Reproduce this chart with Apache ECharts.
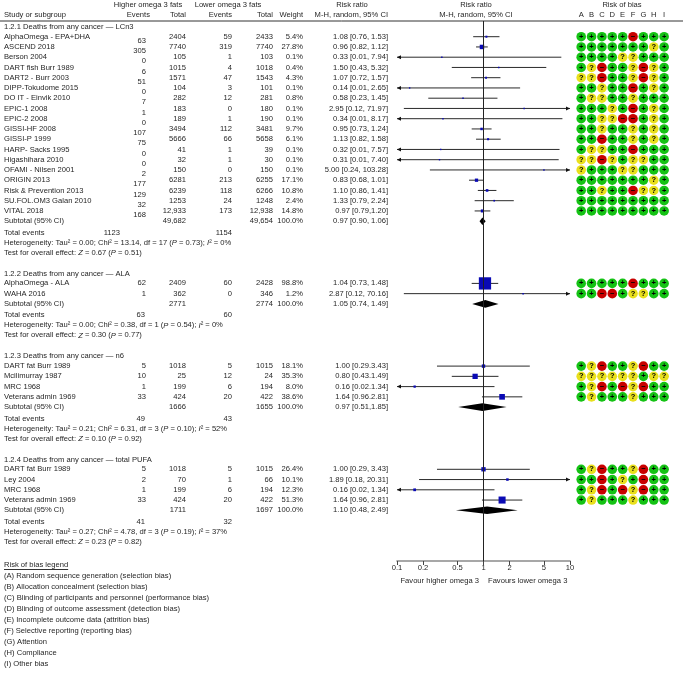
<!DOCTYPE html>
<html>
<head>
<meta charset="UTF-8">
<title>Deaths from any cancer - omega 3</title>
<script src="https://cdn.jsdelivr.net/npm/echarts@6/dist/echarts.min.js"></script>
<style>
    html, body { margin: 0; padding: 0; background: #fff; }
    #main { width: 683px; height: 673px; }
</style>
</head>
<body>
<div id="main"></div>
<script>
// ---- data ----
var groupTitles = [
    '1.2.1 Deaths from any cancer \u2014 LCn3',
    '1.2.2 Deaths from any cancer \u2014 ALA',
    '1.2.3 Deaths from any cancer \u2014 n6',
    '1.2.4 Deaths from any cancer \u2014 total PUFA'
];
var studyGroup = [0,0,0,0,0,0,0,0,0,0,0,0,0,0,0,0,0,0, 1,1, 2,2,2,2, 3,3,3,3];
var studyNames = [
    'AlphaOmega - EPA+DHA', 'ASCEND 2018', 'Berson 2004', 'DART fish Burr 1989', 'DART2 - Burr 2003',
    'DIPP-Tokudome 2015', 'DO IT - Einvik 2010', 'EPIC-1 2008', 'EPIC-2 2008', 'GISSI-HF 2008',
    'GISSI-P 1999', 'HARP- Sacks 1995', 'Higashihara 2010', 'OFAMI - Nilsen 2001', 'ORIGIN 2013',
    'Risk & Prevention 2013', 'SU.FOL.OM3 Galan 2010', 'VITAL 2018',
    'AlphaOmega - ALA', 'WAHA 2016',
    'DART fat Burr 1989', 'Mcilimurray 1987', 'MRC 1968', 'Veterans admin 1969',
    'DART fat Burr 1989', 'Ley 2004', 'MRC 1968', 'Veterans admin 1969'
];
var highEvents = [63,305,0,6,51,0,7,1,0,107,75,0,0,2,177,129,32,168, 62,1, 5,10,1,33, 5,2,1,33];
var highTotal = [2404,7740,105,1015,1571,104,282,183,189,3494,5666,41,32,150,6281,6239,1253,12933, 2409,362, 1018,25,199,424, 1018,70,199,424];
var lowEvents = [59,319,1,4,47,3,12,0,1,112,66,1,1,0,213,118,24,173, 60,0, 5,12,6,20, 5,1,6,20];
var lowTotal = [2433,7740,103,1018,1543,101,281,180,190,3481,5658,39,30,150,6255,6266,1248,12938, 2428,346, 1015,24,194,422, 1015,66,194,422];
var weights = [5.4,27.8,0.1,0.4,4.3,0.1,0.8,0.1,0.1,9.7,6.1,0.1,0.1,0.1,17.1,10.8,2.4,14.8, 98.8,1.2, 18.1,35.3,8.0,38.6, 26.4,10.1,12.3,51.3];
var rr = [1.08,0.96,0.33,1.50,1.07,0.14,0.58,2.95,0.34,0.95,1.13,0.32,0.31,5.00,0.83,1.10,1.33,0.97, 1.04,2.87, 1.00,0.80,0.16,1.64, 1.00,1.89,0.16,1.64];
var rrLow = [0.76,0.82,0.01,0.43,0.72,0.01,0.23,0.12,0.01,0.73,0.82,0.01,0.01,0.24,0.68,0.86,0.79,0.79, 0.73,0.12, 0.29,0.43,0.02,0.96, 0.29,0.18,0.02,0.96];
var rrHigh = [1.53,1.12,7.94,5.32,1.57,2.65,1.45,71.97,8.17,1.24,1.58,7.57,7.40,103.28,1.01,1.41,2.24,1.20, 1.48,70.16, 3.43,1.49,1.34,2.81, 3.43,20.31,1.34,2.81];
// printed as in the figure (its punctuation is not uniform)
var rrText = [
    '1.08 [0.76, 1.53]', '0.96 [0.82, 1.12]', '0.33 [0.01, 7.94]', '1.50 [0.43, 5.32]', '1.07 [0.72, 1.57]',
    '0.14 [0.01, 2.65]', '0.58 [0.23, 1.45]', '2.95 [0.12, 71.97]', '0.34 [0.01, 8.17]', '0.95 [0.73, 1.24]',
    '1.13 [0.82, 1.58]', '0.32 [0.01, 7.57]', '0.31 [0.01, 7.40]', '5.00 [0.24, 103.28]', '0.83 [0.68, 1.01]',
    '1.10 [0.86, 1.41]', '1.33 [0.79, 2.24]', '0.97 [0.79,1.20]',
    '1.04 [0.73, 1.48]', '2.87 [0.12, 70.16]',
    '1.00 [0.29.3.43]', '0.80 [0.43.1.49]', '0.16 [0.02.1.34]', '1.64 [0.96.2.81]',
    '1.00 [0.29, 3.43]', '1.89 [0.18, 20.31]', '0.16 [0.02, 1.34]', '1.64 [0.96, 2.81]'
];
// risk of bias per study, domains A..I: + low, ? unclear, - high
var biasRows = [
    '+++++-+++', '+++++++?+', '++++??+++', '+?-++?-?+', '??-++?-?+', '++?++-+?+',
    '+??++?+++', '+++?+-+?+', '++??--+?+', '++?++?+?+', '++-++?+?+', '+??++-+++',
    '??-?+??++', '?+++??+++', '+++++++?+', '++?++-??+', '+++++++++', '+++++++++',
    '+++++-+++', '++--+??++',
    '+?-++?-++', '??????+??', '+?-+-?-++', '+?+++?+++',
    '+?-++?-++', '++-+?+-++', '+?-+-?-++', '+?+++?+++'
];

var subHighTotal = [49682, 2771, 1666, 1711];
var subLowTotal = [49654, 2774, 1655, 1697];
var subRR = [0.97, 1.05, 0.97, 1.10];
var subLow = [0.90, 0.74, 0.51, 0.48];
var subHigh = [1.06, 1.49, 1.85, 2.49];
var subText = ['0.97 [0.90, 1.06]', '1.05 [0.74, 1.49]', '0.97 [0.51,1.85]', '1.10 [0.48, 2.49]'];
var totHighEvents = [1123, 63, 49, 41];
var totLowEvents = [1154, 60, 43, 32];
var hetTau2 = ['0.00', '0.00', '0.21', '0.27'];
var hetChi2 = ['13.14', '0.38', '6.31', '4.78'];
var hetDf = [17, 1, 3, 3];
var hetP = ['0.73', '0.54', '0.10', '0.19'];
var hetI2 = [0, 0, 52, 37];
var testZ = ['0.67', '0.30', '0.10', '0.23'];
var testP = ['0.51', '0.77', '0.92', '0.82'];

var axisTicks = [0.1, 0.2, 0.5, 1, 2, 5, 10];
var biasDomains = ['A', 'B', 'C', 'D', 'E', 'F', 'G', 'H', 'I'];
var biasLegend = [
    '(A) Random sequence generation (selection bias)',
    '(B) Allocation concealment (selection bias)',
    '(C) Blinding of participants and personnel (performance bias)',
    '(D) Blinding of outcome assessment (detection bias)',
    '(E) Incomplete outcome data (attrition bias)',
    '(F) Selective reporting (reporting bias)',
    '(G) Attention',
    '(H) Compliance',
    '(I) Other bias'
];

// ---- layout ----
var FONT = '"Liberation Sans", Arial, Helvetica, sans-serif';
var FS = 7.6;
var INK = '#262626';
var ROW = 10.25;
var colName = 4, colEv1 = 146, colTot1 = 186, colEv2 = 232, colTot2 = 273, colW = 303, colCI = 388;
var totEvX = [120, 145, 145, 145];

// vertical position of every row, worked out group by group
var studyY = [], grp = [];
var y = 27;
for (var g = 0; g < groupTitles.length; g++) {
    var gy = { title: y };
    y += 9.7;
    for (var i = 0; i < studyNames.length; i++) {
        if (studyGroup[i] === g) { studyY[i] = y; y += ROW; }
    }
    gy.sub = y; y += 11.5;
    gy.tot = y; y += 10;
    gy.het = y; y += 10;
    gy.test = y; y += 21;
    grp.push(gy);
}

function fmt(n) { return n >= 10000 ? n.toLocaleString('en-US') : String(n); }

var items = [];
function txt(x, yy, s, align) { items.push({ kind: 'text', x: x, y: yy, text: s, align: align || 'left' }); }
function rule(x1, y1, x2, y2) { items.push({ kind: 'line', x: x1, y: y1, x2: x2, y2: y2 }); }

// header
txt(148, 5, 'Higher omega 3 fats', 'center');
txt(228, 5, 'Lower omega 3 fats', 'center');
txt(352, 5, 'Risk ratio', 'center');
txt(476, 5, 'Risk ratio', 'center');
txt(622, 5, 'Risk of bias', 'center');
txt(colName, 14.5, 'Study or subgroup');
txt(150, 14.5, 'Events', 'right');
txt(colTot1, 14.5, 'Total', 'right');
txt(colEv2, 14.5, 'Events', 'right');
txt(colTot2, 14.5, 'Total', 'right');
txt(colW, 14.5, 'Weight', 'right');
txt(colCI, 14.5, 'M-H, random, 95% CI', 'right');
txt(476, 14.5, 'M-H, random, 95% CI', 'center');
rule(0, 21, 683, 21);

for (var s = 0; s < studyNames.length; s++) {
    var sy = studyY[s];
    var shift = studyGroup[s] === 0 ? 4 : 0;
    txt(colName, sy, studyNames[s]);
    txt(colEv1, sy + shift, String(highEvents[s]), 'right');
    txt(colTot1, sy, fmt(highTotal[s]), 'right');
    txt(colEv2, sy, String(lowEvents[s]), 'right');
    txt(colTot2, sy, fmt(lowTotal[s]), 'right');
    txt(colW, sy, weights[s].toFixed(1) + '%', 'right');
    txt(colCI, sy, rrText[s], 'right');
}
for (var k = 0; k < grp.length; k++) {
    var G = grp[k];
    txt(colName, G.title, groupTitles[k]);
    txt(colName, G.sub, 'Subtotal (95% CI)');
    txt(colTot1, G.sub, fmt(subHighTotal[k]), 'right');
    txt(colTot2, G.sub, fmt(subLowTotal[k]), 'right');
    txt(colW, G.sub, '100.0%', 'right');
    txt(colCI, G.sub, subText[k], 'right');
    txt(colName, G.tot, 'Total events');
    txt(totEvX[k], G.tot, String(totHighEvents[k]), 'right');
    txt(colEv2, G.tot, String(totLowEvents[k]), 'right');
    txt(colName, G.het, 'Heterogeneity: Tau\u00b2 = ' + hetTau2[k] + '; Chi\u00b2 = ' + hetChi2[k] +
        ', df = ' + hetDf[k] + ' ({i|P} = ' + hetP[k] + '); {i|I}\u00b2 = ' + hetI2[k] + '%');
    txt(colName, G.test, 'Test for overall effect: {i|Z} = ' + testZ[k] + ' ({i|P} = ' + testP[k] + ')');
}

// favour labels under the axis
txt(479, 581, 'Favour higher omega 3', 'right');
txt(488, 581, 'Favours lower omega 3', 'left');

// risk of bias legend
var legTop = 565;
txt(colName, legTop, 'Risk of bias legend');
var mc = document.createElement('canvas').getContext('2d');
mc.font = FS + 'px ' + FONT;
rule(colName, legTop + 4.5, colName + mc.measureText('Risk of bias legend').width, legTop + 4.5);
for (var b = 0; b < biasLegend.length; b++) txt(colName, legTop + 11 + b * 11, biasLegend[b]);

// ---- series data ----
var studyData = studyNames.map(function (n, i) { return [rr[i], rrLow[i], rrHigh[i], studyY[i], weights[i]]; });
var diamondData = grp.map(function (G, k) { return [subRR[k], subLow[k], subHigh[k], G.sub]; });
var biasData = [];
var biasColor = { '+': '#14c214', '?': '#e9e01c', '-': '#c80000' };
var biasGlyph = { '+': '+', '?': '?', '-': '\u2212' };
for (var r = 0; r < biasRows.length; r++) {
    for (var c = 0; c < 9; c++) biasData.push([c, studyY[r], biasRows[r].charAt(c)]);
}

var XMIN = 0.1, XMAX = 10;
function arrowHead(p, dir) {
    return {
        type: 'polygon',
        shape: { points: [[p[0], p[1]], [p[0] - dir * 4, p[1] - 2], [p[0] - dir * 4, p[1] + 2]] },
        style: { fill: '#111' }
    };
}

var chart = echarts.init(document.getElementById('main'));
chart.setOption({
    animation: false,
    backgroundColor: '#fff',
    grid: [
        { left: 0, top: 0, width: 683, height: 673 },
        { left: 397, top: 21, width: 173, height: 540 },
        { left: 576, top: 21, width: 93.3, height: 540 }
    ],
    xAxis: [
        { gridIndex: 0, type: 'value', min: 0, max: 683, show: false },
        {
            gridIndex: 1, type: 'log', logBase: 10, min: XMIN, max: XMAX,
            axisLine: { lineStyle: { color: '#8a8a8a', width: 1.6 } },
            axisTick: { customValues: axisTicks, length: 4, lineStyle: { color: '#444' } },
            axisLabel: {
                customValues: axisTicks, margin: 3, fontSize: FS, fontFamily: FONT, color: INK,
                formatter: function (v) { return String(v); }
            },
            splitLine: { show: false }
        },
        {
            gridIndex: 2, type: 'category', position: 'top', data: biasDomains,
            axisLine: { show: false }, axisTick: { show: false },
            axisLabel: { margin: 2, fontSize: FS, fontFamily: FONT, color: INK }
        }
    ],
    yAxis: [
        { gridIndex: 0, type: 'value', min: 0, max: 673, inverse: true, show: false },
        { gridIndex: 1, type: 'value', min: 21, max: 561, inverse: true, show: false },
        { gridIndex: 2, type: 'value', min: 21, max: 561, inverse: true, show: false }
    ],
    series: [
        {
            type: 'custom', xAxisIndex: 0, yAxisIndex: 0, silent: true,
            data: items.map(function (t) { return [t.x, t.y]; }),
            renderItem: function (params, api) {
                var t = items[params.dataIndex];
                var p = api.coord([t.x, t.y]);
                if (t.kind === 'line') {
                    var q = api.coord([t.x2, t.y2]);
                    return { type: 'line', shape: { x1: p[0], y1: p[1], x2: q[0], y2: q[1] },
                        style: { stroke: '#333', lineWidth: 1 } };
                }
                return {
                    type: 'text',
                    style: {
                        text: t.text, x: p[0], y: p[1], align: t.align, verticalAlign: 'middle',
                        fontSize: FS, fontFamily: FONT, fill: INK,
                        rich: { i: { fontStyle: 'italic', fontSize: FS, fontFamily: FONT, fill: INK } }
                    }
                };
            }
        },
        {
            type: 'custom', xAxisIndex: 1, yAxisIndex: 1, silent: true, clip: false,
            data: studyData,
            renderItem: function (params, api) {
                var est = api.value(0), lo = api.value(1), hi = api.value(2), yy = api.value(3), w = api.value(4);
                var p0 = api.coord([Math.max(lo, XMIN), yy]);
                var p1 = api.coord([Math.min(hi, XMAX), yy]);
                var c = api.coord([est, yy]);
                var kids = [{ type: 'line', shape: { x1: p0[0], y1: p0[1], x2: p1[0], y2: p1[1] },
                    style: { stroke: '#2a2a2a', lineWidth: 1 } }];
                if (lo < XMIN) kids.push(arrowHead(p0, -1));
                if (hi > XMAX) kids.push(arrowHead(p1, 1));
                var sz = 1.4 + 0.11 * w;
                kids.push({ type: 'rect', shape: { x: c[0] - sz / 2, y: c[1] - sz / 2, width: sz, height: sz },
                    style: { fill: '#0a0ab4' } });
                return { type: 'group', children: kids };
            }
        },
        {
            type: 'custom', xAxisIndex: 1, yAxisIndex: 1, silent: true, clip: false,
            data: diamondData,
            renderItem: function (params, api) {
                var yy = api.value(3);
                var a = api.coord([api.value(1), yy]), m = api.coord([api.value(0), yy]), e = api.coord([api.value(2), yy]);
                return { type: 'polygon',
                    shape: { points: [[a[0], a[1]], [m[0], m[1] - 3.8], [e[0], e[1]], [m[0], m[1] + 3.8]] },
                    style: { fill: '#000' } };
            },
            markLine: {
                silent: true, symbol: 'none', label: { show: false },
                lineStyle: { color: '#222', width: 1, type: 'solid' },
                data: [{ xAxis: 1 }]
            }
        },
        {
            type: 'scatter', xAxisIndex: 2, yAxisIndex: 2, silent: true,
            symbolSize: 9.6,
            data: biasData,
            itemStyle: { color: function (p) { return biasColor[p.value[2]]; }, opacity: 1 },
            label: {
                show: true, position: 'inside', color: '#000', fontSize: 7.5, fontWeight: 'bold', fontFamily: FONT,
                formatter: function (p) { return biasGlyph[p.value[2]]; }
            }
        }
    ]
});
</script>
</body>
</html>
